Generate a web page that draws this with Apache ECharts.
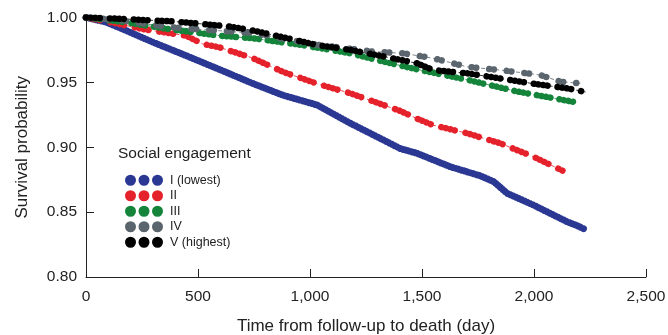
<!DOCTYPE html>
<html>
<head>
<meta charset="utf-8">
<script src="https://cdn.jsdelivr.net/npm/echarts@6/dist/echarts.min.js"></script>
<style>html,body{margin:0;padding:0;background:#fff}#c{width:668px;height:335px}</style>
</head>
<body>
<div id="c"></div>
<script>
// Series names
const seriesNames = ['I (lowest)', 'II', 'III', 'IV', 'V (highest)'];
// x tick labels
const xTicks = [0, 500, 1000, 1500, 2000, 2500];
const yTicks = [0.80, 0.85, 0.90, 0.95, 1.00];

// [day, survival probability]
const groupI = [[0,1.0],[89,0.9965],[179,0.990],[298,0.981],[447,0.9706],[595,0.960],[751,0.9487],[881,0.940],[1031,0.9326],[1180,0.9185],[1328,0.9056],[1403,0.899],[1478,0.8953],[1626,0.885],[1760,0.878],[1820,0.8735],[1880,0.8645],[1997,0.8555],[2148,0.8426],[2200,0.839],[2230,0.8365]];
const groupII = [[0,1.0],[120,0.996],[255,0.991],[447,0.986],[521,0.9796],[595,0.977],[740,0.969],[881,0.958],[1031,0.949],[1180,0.9416],[1328,0.9326],[1403,0.928],[1478,0.922],[1550,0.917],[1701,0.9108],[1850,0.903],[1997,0.8927],[2127,0.882]];
const groupIII = [[0,1.0],[150,0.997],[372,0.991],[595,0.986],[745,0.984],[956,0.979],[1180,0.9724],[1328,0.966],[1478,0.960],[1701,0.952],[1924,0.943],[2176,0.935]];
const groupIV = [[0,1.0],[150,0.998],[372,0.9925],[745,0.988],[1031,0.979],[1283,0.9737],[1417,0.9724],[1550,0.9686],[1701,0.962],[1850,0.9595],[2028,0.9557],[2118,0.9505],[2207,0.9493]];
const groupV = [[0,1.0],[179,0.9988],[387,0.997],[521,0.995],[640,0.993],[745,0.990],[1031,0.9788],[1180,0.975],[1328,0.970],[1478,0.9647],[1550,0.9595],[1701,0.957],[1850,0.953],[1997,0.949],[2148,0.9454],[2230,0.9426]];

const groups = [groupI, groupII, groupIII, groupIV, groupV];
const colors = ['#2a3793', '#e5212b', '#13843a', '#5b656d', '#000000'];
const widths = [7, 6.5, 6.5, 6.5, 6.5];
const dotPatterns = [[0.1,3],[0.1,4.5,0.1,4.5,0.1,4.5,0.1,11],[0.1,4.5,0.1,4.5,0.1,4.5,0.1,9],[0.1,4.5,0.1,13],[0.1,4.5,0.1,4.5,0.1,4.5,0.1,10]];

const FONT = 'Liberation Sans';
const chart = echarts.init(document.getElementById('c'), null, {renderer:'canvas'});

const series = [];
groups.forEach((g, i) => {
  series.push({
    name: seriesNames[i] + ' ', type: 'line', data: g, showSymbol: false, silent: true,
    lineStyle: {color: colors[i], width: 1, type: [4,3], opacity: 0.8},
    z: 1 + i
  });
});
groups.forEach((g, i) => {
  series.push({
    name: seriesNames[i], type: 'line', data: g, showSymbol: false,
    color: colors[i],
    lineStyle: {color: colors[i], width: widths[i], type: dotPatterns[i], cap: 'round'},
    z: 10 + i
  });
});

const dots = 'path://M0,5.5A5.5,5.5 0 1,1 11,5.5A5.5,5.5 0 1,1 0,5.5ZM13.5,5.5A5.5,5.5 0 1,1 24.5,5.5A5.5,5.5 0 1,1 13.5,5.5ZM27,5.5A5.5,5.5 0 1,1 38,5.5A5.5,5.5 0 1,1 27,5.5Z';

chart.setOption({
  animation: false,
  backgroundColor: '#fff',
  textStyle: {fontFamily: FONT},
  title: {text: 'Social engagement', left: 113, top: 141,
    textStyle: {fontFamily: FONT, fontSize: 15.5, fontWeight: 'normal', color: '#222'}},
  legend: {
    data: seriesNames, orient: 'vertical', left: 120, top: 168.5,
    icon: dots, itemWidth: 38, itemHeight: 11, itemGap: 2,
    textStyle: {fontFamily: FONT, fontSize: 12.5, color: '#222', lineHeight: 13.5, padding: [0,0,0,2]}
  },
  grid: {left: 86, right: 22, top: 17.5, bottom: 58, outerBoundsMode: 'none', containLabel: false},
  xAxis: {
    type: 'value', min: 0, max: 2500, interval: 500,
    name: 'Time from follow-up to death (day)', nameLocation: 'middle', nameGap: 41,
    nameTextStyle: {fontFamily: FONT, fontSize: 17, color: '#222'},
    axisLine: {lineStyle: {color: '#222', width: 1}},
    axisTick: {inside: true, length: 8, lineStyle: {color: '#222'}},
    axisLabel: {fontFamily: FONT, fontSize: 15.5, color: '#222', margin: 12,
      formatter: v => xTicks.includes(v) ? v.toLocaleString('en-US') : ''},
    splitLine: {show: false}
  },
  yAxis: {
    type: 'value', min: 0.8, max: 1.0, interval: 0.05,
    name: 'Survival probability', nameLocation: 'middle', nameGap: 55,
    nameTextStyle: {fontFamily: FONT, fontSize: 17, color: '#222'},
    axisLine: {show: true, lineStyle: {color: '#222', width: 1}},
    axisTick: {show: true, inside: true, length: 8, lineStyle: {color: '#222'}},
    axisLabel: {fontFamily: FONT, fontSize: 15.5, color: '#222', margin: 9,
      formatter: v => yTicks.some(t => Math.abs(t - v) < 1e-6) ? v.toFixed(2) : ''},
    splitLine: {show: false}
  },
  series: series
});
</script>
</body>
</html>
